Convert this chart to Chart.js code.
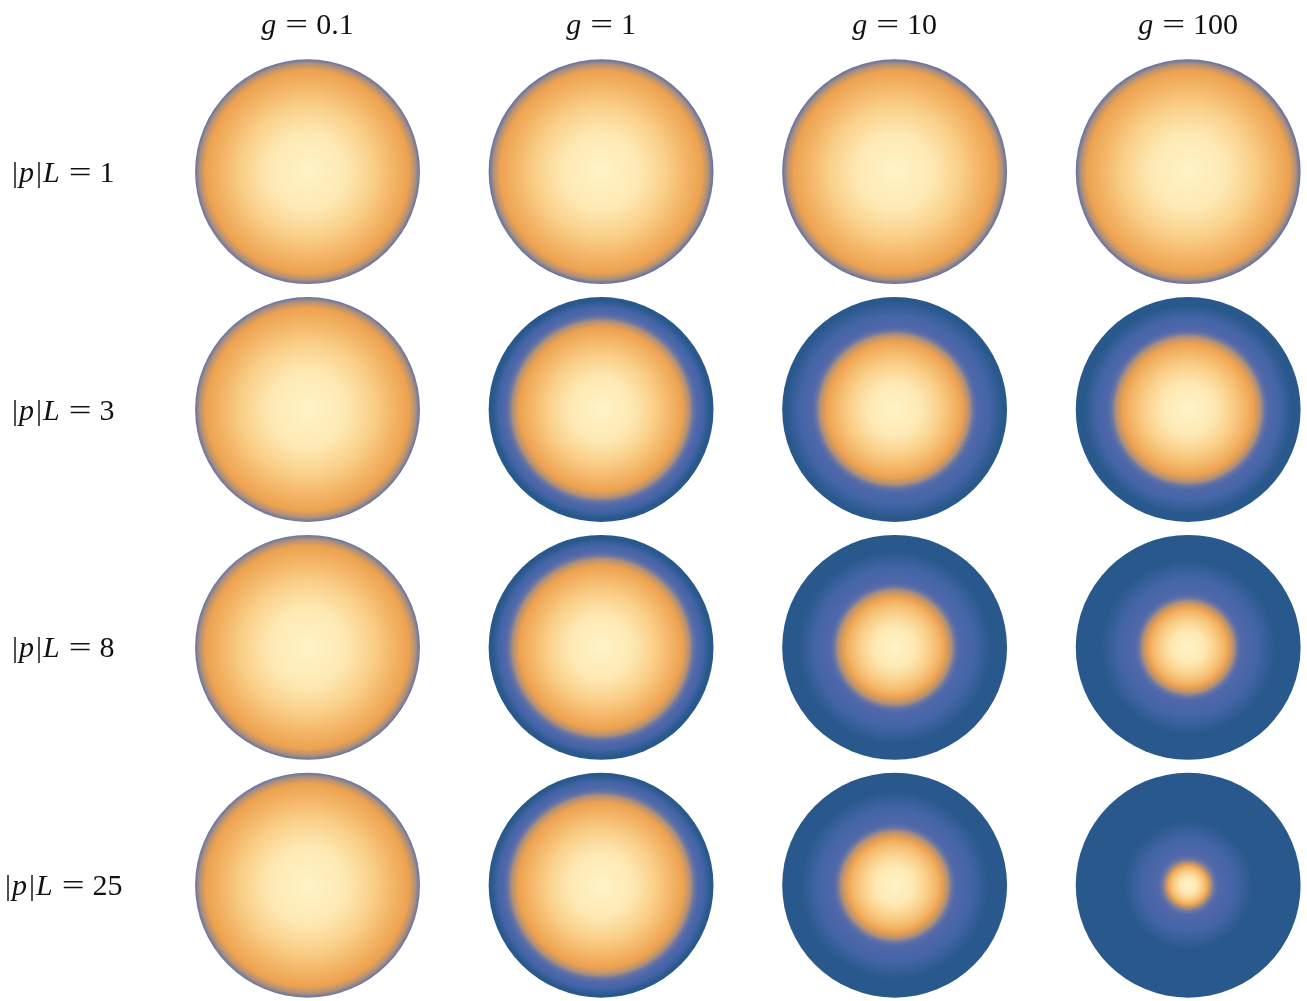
<!DOCTYPE html>
<html>
<head>
<meta charset="utf-8">
<script src="https://cdn.jsdelivr.net/npm/chart.js@4/dist/chart.umd.min.js"></script>
<style>
  html, body { margin: 0; padding: 0; background: #ffffff; }
  #wrap { width: 1307px; height: 1001px; position: relative; }
</style>
</head>
<body>
<div id="wrap"><canvas id="grid"></canvas></div>
<script>
// ---- dados ----
const couplings = ['0.1', '1', '10', '100'];       // colunas (g)
const momenta = ['1', '3', '8', '25'];             // linhas (|p|L)
// raio (fração do disco) onde o laranja vira azul, por linha x coluna
const coreRow1 = [0.962, 0.958, 0.958, 0.958];
const coreRow2 = [0.962, 0.785, 0.665, 0.645];
const coreRow3 = [0.962, 0.785, 0.505, 0.405];
const coreRow4 = [0.962, 0.795, 0.475, 0.20];
const coreRows = [coreRow1, coreRow2, coreRow3, coreRow4];
// raio (fração do disco) onde o azul fica escuro
const edgeRow1 = [1.15, 1.15, 1.15, 1.15];
const edgeRow2 = [1.15, 0.97, 0.97, 0.93];
const edgeRow3 = [1.15, 0.97, 0.86, 0.78];
const edgeRow4 = [1.15, 0.98, 0.84, 0.58];
const edgeRows = [edgeRow1, edgeRow2, edgeRow3, edgeRow4];

// cores do mapa (creme -> laranja -> transição -> azul)
const creamColors = ['#fff3c6', '#fee9b4', '#fad08a', '#f3b466'];   // em 0, 0.35, 0.6, 0.8 do núcleo
const creamPos = [0, 0.35, 0.6, 0.8];
const orangePeak = '#eda250';
const muddy = '#b09078';
const mixBlue = '#6a75a2';
const lavender = '#5068aa';
const blueMid = '#4465a6';
const blueDark = '#28588c';

const points = [];
coreRows.forEach((row, i) => {
    row.forEach((c, j) => points.push({ x: j, y: i, core: c, edge: edgeRows[i][j] }));
});

function diskRadius(chart) {
    const sx = chart.scales.x;
    if (!sx) return 110;
    const d = sx.getPixelForValue(1) - sx.getPixelForValue(0);
    return isFinite(d) && d > 0 ? d * 0.383 : 110;
}

// desenha os discos com gradiente radial nas posições dos elementos
const diskPlugin = {
    id: 'diskFill',
    afterDatasetsDraw(chart) {
        const c = chart.ctx;
        const meta = chart.getDatasetMeta(0);
        const R = diskRadius(chart);
        c.save();
        meta.data.forEach((el, k) => {
            const raw = points[k];
            const cx = el.x, cy = el.y;
            if (!isFinite(cx) || !isFinite(cy)) return;
            const core = raw.core, edge = raw.edge;
            const grad = c.createRadialGradient(cx, cy, 0, cx, cy, edge * R);
            const stop = (r, col) => grad.addColorStop(Math.min(1, r / edge), col);
            creamPos.forEach((p, n) => stop(p * core, creamColors[n]));
            stop(Math.max(0.88 * core, core - 0.06), orangePeak);
            stop(core, muddy);
            stop(core + 0.035, mixBlue);
            const lav = core + 0.07;
            stop(lav, lavender);
            if (lav < edge) {
                stop(lav + (edge - lav) * 0.45, blueMid);
                stop(edge, blueDark);
            }
            c.beginPath();
            c.arc(cx, cy, R, 0, Math.PI * 2);
            c.fillStyle = grad;
            c.fill();
        });
        c.restore();
    }
};

// rótulos em estilo LaTeX (itálico + normal)
const serif = '"Liberation Serif", "DejaVu Serif", serif';
const fIt = 'italic 30px ' + serif;
const fRm = '30px ' + serif;

const labelPlugin = {
    id: 'mathLabels',
    afterDraw(chart) {
        const c = chart.ctx;
        const sx = chart.scales.x, sy = chart.scales.y;
        const draw = (pieces, x, y, align) => {
            // pieces: [texto, fonte, espaço depois, escala horizontal]
            let total = 0;
            pieces.forEach(p => { c.font = p[1]; total += c.measureText(p[0]).width * (p[3] || 1) + p[2]; });
            let xx = align === 'center' ? x - total / 2 : x;
            c.textBaseline = 'alphabetic';
            c.textAlign = 'left';
            c.fillStyle = '#111';
            pieces.forEach(p => {
                c.font = p[1];
                const s = p[3] || 1;
                c.save();
                c.translate(xx, y);
                c.scale(s, 1);
                c.fillText(p[0], 0, 0);
                c.restore();
                xx += c.measureText(p[0]).width * s + p[2];
            });
        };
        c.save();
        couplings.forEach((g, j) => {
            draw([['g', fIt, 9], ['=', fRm, 8, 1.35], [g, fRm, 0]], sx.getPixelForValue(j), 34, 'center');
        });
        momenta.forEach((m, i) => {
            const y = sy.getPixelForValue(i) + 10;
            const x = m.length > 1 ? 5 : 12;
            draw([['|', fRm, 1], ['p', fIt, 2], ['|', fRm, 1], ['L', fIt, 9], ['=', fRm, 8, 1.35], [m, fRm, 0]], x, y, 'left');
        });
        c.restore();
    }
};

new Chart(document.getElementById('grid'), {
    type: 'bubble',
    data: {
        datasets: [{
            data: points,
            backgroundColor: 'rgba(0,0,0,0)',
            borderWidth: 0,
            hoverBorderWidth: 0,
            radius: 1,
            hoverRadius: 0
        }]
    },
    options: {
        responsive: true,
        maintainAspectRatio: false,
        animation: false,
        layout: { padding: 0 },
        scales: {
            x: { type: 'linear', display: false, min: -1.0442, max: 3.4014 },
            y: { type: 'linear', display: false, reverse: true, min: -0.7175, max: 3.4825 }
        },
        plugins: {
            legend: { display: false },
            tooltip: { enabled: false }
        }
    },
    plugins: [diskPlugin, labelPlugin]
});
</script>
</body>
</html>
